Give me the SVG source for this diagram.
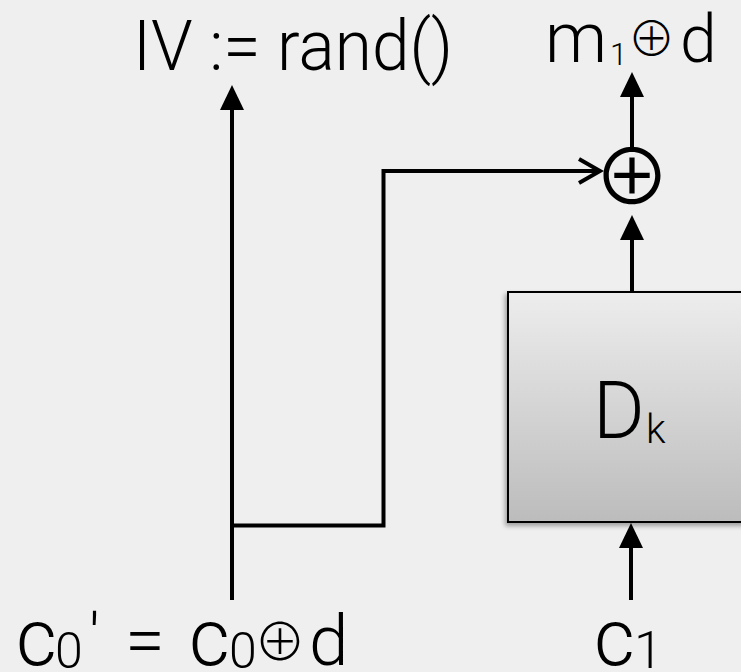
<svg xmlns="http://www.w3.org/2000/svg" width="741" height="672" viewBox="0 0 741 672">
<defs>
<style>
.t{font-family:Roboto,"Liberation Sans",sans-serif;font-weight:300;fill:#000}
.sym{font-family:"Noto Sans CJK SC","DejaVu Sans",sans-serif;fill:#000}
.ln{fill:none;stroke:#000;stroke-width:4}
</style>
<marker id="tri" viewBox="0 0 25 24" refX="0" refY="12" markerWidth="25" markerHeight="24" markerUnits="userSpaceOnUse" orient="auto">
<path d="M0,0 L25,12 L0,24 Z" fill="#000"/>
</marker>
<marker id="chev" viewBox="-26 -16 30 32" refX="0" refY="0" markerWidth="30" markerHeight="32" markerUnits="userSpaceOnUse" orient="auto">
<path d="M-21,-12 L0,0 L-21,12" fill="none" stroke="#000" stroke-width="4"/>
</marker>
<linearGradient id="g" x1="0" y1="0" x2="0" y2="1">
<stop offset="0" stop-color="#ededed"/>
<stop offset="1" stop-color="#bcbcbc"/>
</linearGradient>
<filter id="sh" x="-10%" y="-10%" width="120%" height="120%">
<feGaussianBlur in="SourceAlpha" stdDeviation="2.5"/>
<feOffset dx="-2" dy="3" result="b"/>
<feComponentTransfer><feFuncA type="linear" slope="0.35"/></feComponentTransfer>
<feMerge><feMergeNode/><feMergeNode in="SourceGraphic"/></feMerge>
</filter>
</defs>
<rect width="741" height="672" fill="#efefef"/>

<g id="connectors">
<path class="ln" d="M232,600 V110" marker-end="url(#tri)"/>
<path class="ln" d="M232,525.5 H383.5 V171 H600" marker-end="url(#chev)"/>
<path class="ln" d="M632,292 V240" marker-end="url(#tri)"/>
<path class="ln" d="M632,150 V97" marker-end="url(#tri)"/>
<path class="ln" d="M631,600 V548" marker-end="url(#tri)"/>
</g>

<g id="decrypt">
<rect x="508" y="292" width="260" height="230" fill="url(#g)" stroke="#000" stroke-width="2" filter="url(#sh)"/>
<text class="t" y="438"><tspan x="593" font-size="79">D</tspan><tspan x="646" y="443" font-size="40">k</tspan></text>
</g>

<g id="xor">
<text class="sym" x="632" y="205" font-size="77" text-anchor="middle">⊕</text>
</g>

<g id="iv">
<text class="t" x="133" y="70" font-size="70" textLength="320" lengthAdjust="spacingAndGlyphs">IV := rand()</text>
</g>

<g id="out">
<text class="t" y="62"><tspan x="545" font-size="70">m</tspan><tspan x="610" y="65" font-size="31">1</tspan><tspan class="sym" x="651.5" y="55.5" font-size="48" text-anchor="middle">⊕</tspan><tspan x="680" y="62" font-size="66">d</tspan></text>
</g>

<g id="c0">
<text class="t" y="665"><tspan x="16" font-size="79">c</tspan><tspan x="55" y="668" font-size="50">0</tspan><tspan x="89" y="660" font-size="64">'</tspan><tspan x="125" y="665" font-size="72">=</tspan><tspan x="189" font-size="79">c</tspan><tspan x="229" y="668" font-size="50">0</tspan><tspan class="sym" x="280" y="661" font-size="52" text-anchor="middle">⊕</tspan><tspan x="309" y="665" font-size="71">d</tspan></text>
</g>

<g id="c1">
<text class="t" y="665"><tspan x="594" font-size="79">c</tspan><tspan x="634" y="668" font-size="52">1</tspan></text>
</g>
</svg>
